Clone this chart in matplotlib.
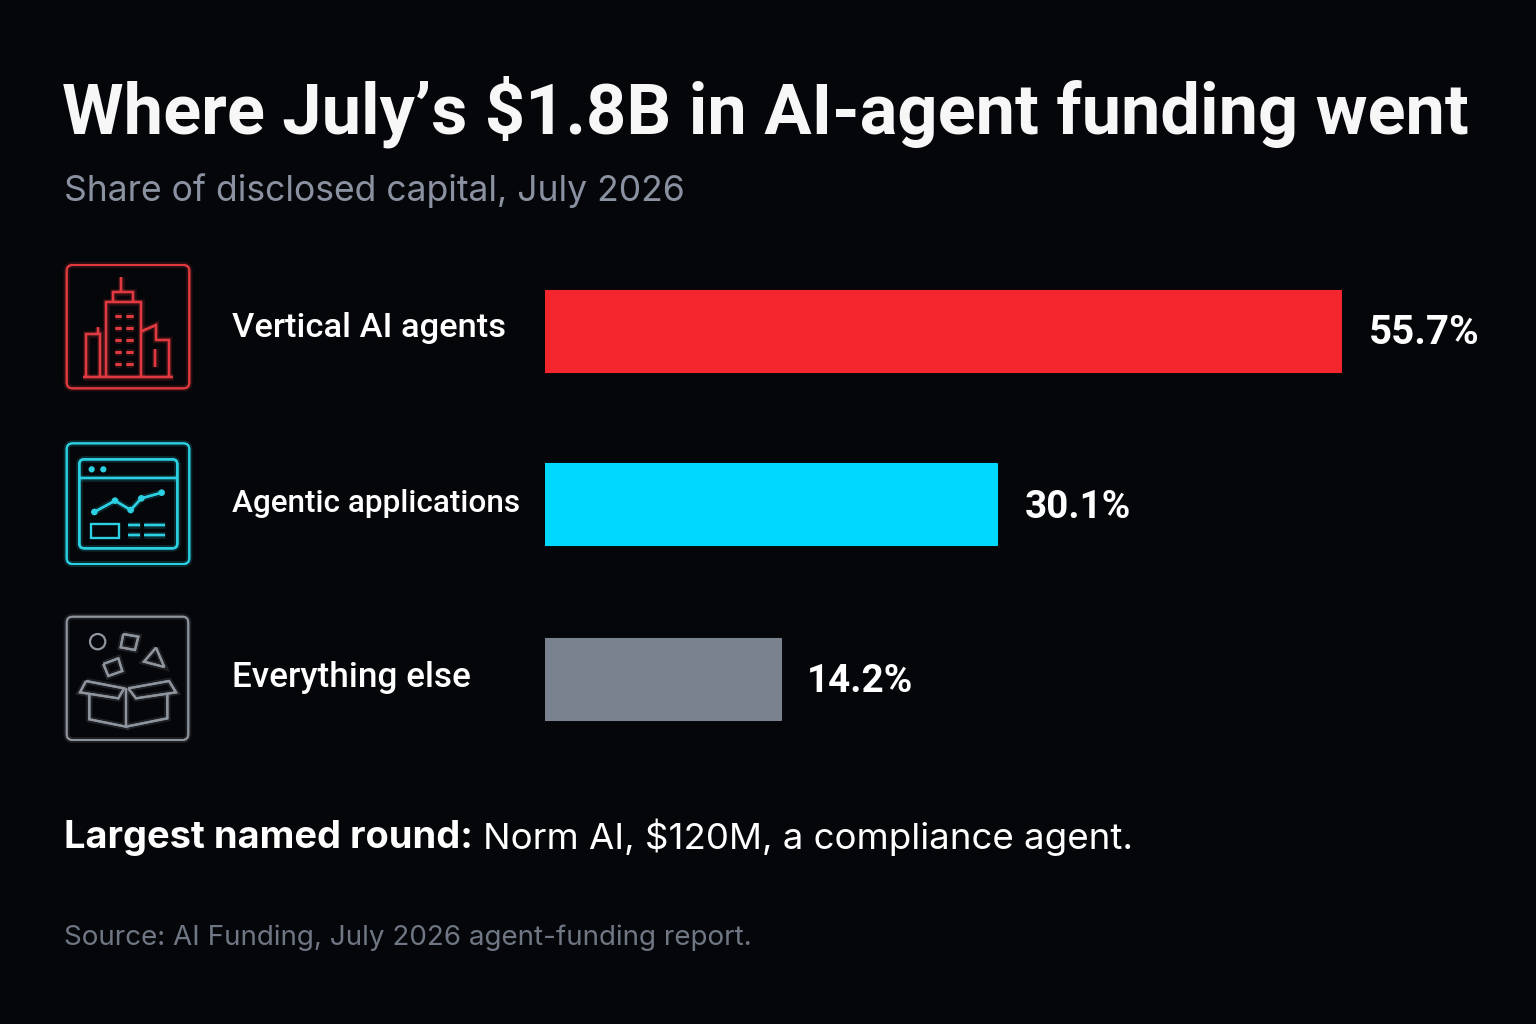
import matplotlib
matplotlib.use('Agg')
import matplotlib.pyplot as plt
import matplotlib.patheffects as pe
from matplotlib.patches import FancyBboxPatch, Circle, Rectangle

plt.rcParams['font.family'] = ['Inter', 'DejaVu Sans']

categories = ['Vertical AI agents', 'Agentic applications', 'Everything else']
value_labels = ['55.7%', '30.1%', '14.2%']
# drawn bar lengths, they are not proportional to the labels
bar_lengths = [55.7, 31.6, 16.5]
colors = ['#f2262c', '#00d8ff', '#7a8290']
icon_colors = ['#e03a40', '#2bd0e2', '#8f959e']

BG = '#050609'
W, H = 1536, 1024

fig = plt.figure(figsize=(W / 100, H / 100), dpi=100, facecolor=BG)

# overlay in pixel coords for text and icons
page = fig.add_axes([0, 0, 1, 1])
page.set_xlim(0, W)
page.set_ylim(H, 0)
page.axis('off')

# bars, scaled so that the longest runs 545 -> 1342 px
bar_ax = fig.add_axes([545 / W, 0, (1342 - 545) / W, 1])
bar_ax.set_xlim(0, max(bar_lengths))
bar_ax.set_ylim(H, 0)
bar_ax.axis('off')
bar_ax.patch.set_alpha(0)

rows = [331, 504.5, 679.5]
bar_ax.barh(rows, bar_lengths, height=81, color=colors, edgecolor=colors,
            linewidth=1.5, joinstyle='round')

label_x = [1369, 1025, 807]
category_y = [328, 504, 678]
category_sizes = [24.8, 22.7, 25.3]
value_sizes = [29, 27.8, 27.8]
for i in range(3):
    page.text(232, category_y[i], categories[i], color='white', fontsize=category_sizes[i],
              fontweight='medium', va='center', ha='left', family='Roboto')
    page.text(label_x[i], rows[i] + 2.5, value_labels[i], color='white', fontsize=value_sizes[i],
              fontweight='bold', va='center', ha='left', family='Roboto')


page.text(62, 112, "Where July’s $1.8B in AI-agent funding went", color='#f7f7f8',
          fontsize=50.7, fontweight='bold', va='center', ha='left', family='Roboto')
page.text(64, 191, 'Share of disclosed capital, July 2026', color='#8a91a0',
          fontsize=25.6, va='center', ha='left')
page.text(64, 838, 'Largest named round:', color='white', fontsize=27.4,
          fontweight='bold', va='center', ha='left')
page.text(483, 837, 'Norm AI, $120M, a compliance agent.', color='white', fontsize=26.4,
          va='center', ha='left')
page.text(64, 938, 'Source: AI Funding, July 2026 agent-funding report.', color='#6f7684',
          fontsize=20, va='center', ha='left')


def glow(width, color):
    return [pe.withStroke(linewidth=width + 3, foreground=color, alpha=0.18), pe.Normal()]


def line(ox, oy, pts, color, lw=1.7, closed=False):
    # pts are in 3x zoom coords of the icon crop
    pts = [(ox + x / 3, oy + y / 3) for x, y in pts]
    if closed:
        pts = pts + [pts[0]]
    xs = [p[0] for p in pts]
    ys = [p[1] for p in pts]
    page.plot(xs, ys, color=color, lw=lw, solid_joinstyle='miter', solid_capstyle='butt',
              path_effects=glow(lw, color))


def round_box(ox, oy, x0, y0, x1, y1, color, rad=6, lw=1.4):
    page.add_patch(FancyBboxPatch((ox + x0 / 3 + rad, oy + y0 / 3 + rad),
                                  (x1 - x0) / 3 - 2 * rad, (y1 - y0) / 3 - 2 * rad,
                                  boxstyle='round,pad=%d,rounding_size=%d' % (rad, rad),
                                  fill=False, edgecolor=color, lw=lw,
                                  path_effects=glow(lw, color)))


# building icon
c = icon_colors[0]
ox, oy = 50, 250
round_box(ox, oy, 50, 45, 418, 415, c)
line(ox, oy, [(214, 82), (214, 125)], c)
line(ox, oy, [(190, 152), (190, 127), (250, 127), (250, 155)], c)
line(ox, oy, [(168, 382), (168, 157), (272, 157), (272, 382)], c)
for y in [199, 235, 271, 307, 343]:
    line(ox, oy, [(194, y), (214, y)], c, lw=2.0)
    line(ox, oy, [(228, y), (248, y)], c, lw=2.0)
line(ox, oy, [(108, 382), (108, 252), (150, 252), (150, 382)], c)
line(ox, oy, [(143, 230), (143, 252)], c)
line(ox, oy, [(272, 245), (318, 225), (318, 270), (357, 270), (357, 382)], c)
line(ox, oy, [(315, 298), (315, 352)], c)
line(ox, oy, [(98, 382), (368, 382)], c)

# dashboard icon
c = icon_colors[1]
ox, oy = 50, 430
round_box(ox, oy, 50, 40, 418, 402, c)
round_box(ox, oy, 88, 88, 382, 355, c, rad=5, lw=1.7)
line(ox, oy, [(88, 143), (382, 143)], c)
for x in [125, 160]:
    page.add_patch(Circle((ox + x / 3, oy + 118 / 3), 2.4, color=c))
chart_pts = [(133, 246), (195, 212), (242, 240), (274, 205), (335, 188)]
line(ox, oy, chart_pts, c)
for x, y in chart_pts:
    page.add_patch(Circle((ox + x / 3, oy + y / 3), 2.6, facecolor=c, edgecolor=c))
page.add_patch(Rectangle((ox + 122 / 3, oy + 282 / 3), 86 / 3, 41 / 3, fill=False,
                         edgecolor=c, lw=1.7))
for y in [285, 315]:
    line(ox, oy, [(233, y), (270, y)], c)
    line(ox, oy, [(283, y), (345, y)], c)

# open box icon
c = icon_colors[2]
ox, oy = 50, 605
round_box(ox, oy, 50, 35, 415, 405, c, lw=1.3)
page.add_patch(Circle((ox + 143 / 3, oy + 110 / 3), 23 / 3, fill=False, edgecolor=c, lw=1.6))
line(ox, oy, [(220, 87), (265, 95), (255, 135), (212, 127)], c, lw=1.6, closed=True)
line(ox, oy, [(160, 177), (205, 160), (217, 198), (175, 213)], c, lw=1.6, closed=True)
line(ox, oy, [(318, 128), (343, 186), (282, 170)], c, lw=1.6, closed=True)
line(ox, oy, [(118, 265), (118, 343), (228, 365), (228, 250)], c, lw=1.6)
line(ox, oy, [(228, 365), (352, 340), (352, 265)], c, lw=1.6)
line(ox, oy, [(108, 228), (222, 250), (205, 280), (90, 262)], c, lw=1.6, closed=True)
line(ox, oy, [(235, 250), (357, 228), (378, 262), (258, 280)], c, lw=1.6, closed=True)

fig.savefig('out.png', dpi=100, facecolor=BG)
